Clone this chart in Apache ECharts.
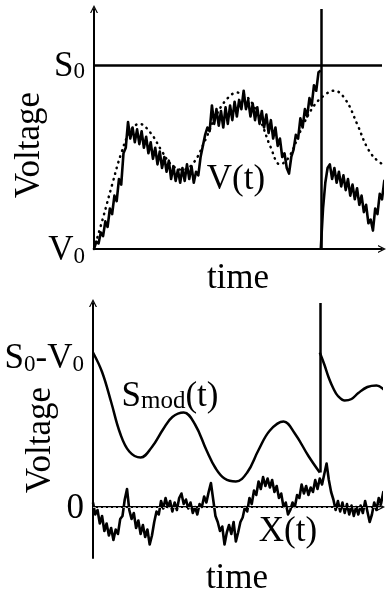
<!DOCTYPE html>
<html>
<head>
<meta charset="utf-8">
<script src="https://cdn.jsdelivr.net/npm/echarts@6/dist/echarts.min.js"></script>
<style>
  html, body { margin: 0; padding: 0; background: #fff; }
  #main { width: 388px; height: 599px; }
</style>
</head>
<body>
<div id="main"></div>
<script>
// V(t), one sample per time step, before the reset at t = 100
const vBefore = [
  0.00, 0.04, 0.03, 0.09, 0.07, 0.15, 0.12, 0.22, 0.19, 0.29,
  0.26, 0.38, 0.35, 0.52, 0.55, 0.69, 0.60, 0.66, 0.58, 0.65,
  0.57, 0.64, 0.55, 0.61, 0.52, 0.58, 0.49, 0.55, 0.46, 0.53,
  0.44, 0.50, 0.42, 0.48, 0.38, 0.45, 0.37, 0.43, 0.36, 0.44,
  0.37, 0.46, 0.38, 0.45, 0.36, 0.42, 0.40, 0.50, 0.56, 0.62,
  0.66, 0.64, 0.78, 0.68, 0.76, 0.67, 0.75, 0.66, 0.77, 0.68,
  0.78, 0.70, 0.80, 0.72, 0.81, 0.76, 0.86, 0.76, 0.81, 0.72,
  0.79, 0.70, 0.77, 0.68, 0.75, 0.66, 0.73, 0.63, 0.70, 0.60,
  0.66, 0.56, 0.60, 0.50, 0.52, 0.44, 0.41, 0.50, 0.54, 0.62,
  0.60, 0.71, 0.66, 0.76, 0.72, 0.82, 0.78, 0.89, 0.86, 0.96,
  0.97
];
// V(t) after the reset, t = 100 .. 129
const vAfterStart = 100;
const vAfter = [
  0.00, 0.22, 0.36, 0.44, 0.46, 0.38, 0.44, 0.36, 0.42, 0.34,
  0.40, 0.32, 0.38, 0.29, 0.35, 0.27, 0.33, 0.24, 0.29, 0.20,
  0.24, 0.14, 0.16, 0.10, 0.22, 0.19, 0.30, 0.27, 0.37, 0.34
];
// noise-free voltage (dotted)
const detT = [0, 4, 8, 12, 16, 20, 25, 30, 34, 39, 44, 49, 54, 59, 63, 68, 73, 78, 82, 86, 91, 96, 101, 106, 111, 116, 121, 126, 129];
const detV = [0, 0.17, 0.35, 0.52, 0.64, 0.68, 0.63, 0.53, 0.46, 0.43, 0.47, 0.59, 0.73, 0.82, 0.85, 0.82, 0.71, 0.55, 0.46, 0.50, 0.64, 0.76, 0.83, 0.86, 0.81, 0.68, 0.54, 0.47, 0.46];

// modulated threshold
const smodT = [0, 4, 8, 12, 16, 21, 26, 31, 35, 40, 45, 50, 54, 58, 63, 68, 73, 78, 84, 89, 95, 100];
const smodV = [1.03, 0.90, 0.70, 0.49, 0.37, 0.33, 0.40, 0.52, 0.60, 0.63, 0.55, 0.38, 0.26, 0.19, 0.17, 0.23, 0.38, 0.51, 0.57, 0.49, 0.34, 0.23];
const smodAfterT = [100, 102, 104, 106, 108, 111, 114, 117, 121, 125, 129];
const smodAfterV = [1.03, 0.95, 0.86, 0.79, 0.74, 0.71, 0.72, 0.76, 0.80, 0.81, 0.77];

// X(t), one sample per time step, t = 0 .. 129
const xNoise = [
   0.03, -0.05, -0.02, -0.11, -0.06, -0.16, -0.11, -0.19, -0.14, -0.22,
  -0.15, -0.18, -0.08, -0.06,  0.05,  0.12, -0.02, -0.08, -0.04, -0.14,
  -0.09, -0.18, -0.12, -0.20, -0.15, -0.25, -0.19, -0.10, -0.03, -0.05,
   0.04, -0.01,  0.06,  0.00,  0.04, -0.03,  0.03, -0.02,  0.06,  0.09,
   0.02,  0.05, -0.01,  0.03, -0.04,  0.00, -0.05,  0.02,  0.00,  0.07,
   0.03,  0.10,  0.16,  0.05, -0.06, -0.10, -0.16, -0.13, -0.25, -0.17,
  -0.12, -0.18, -0.10, -0.23, -0.17, -0.10, -0.07,  0.00, -0.03,  0.06,
   0.02,  0.11,  0.08,  0.17,  0.12,  0.20,  0.14,  0.19,  0.13,  0.18,
   0.10,  0.14,  0.06,  0.09,  0.00,  0.03, -0.05, -0.02,  0.03,  0.00,
   0.08,  0.06,  0.15,  0.09,  0.14,  0.08,  0.13,  0.10,  0.18,  0.12,
   0.19,  0.15,  0.22,  0.29,  0.18,  0.10,  0.05, -0.02,  0.04, -0.03,
   0.03, -0.04,  0.02, -0.05,  0.01, -0.06,  0.00, -0.05,  0.01, -0.04,
   0.04, -0.03, -0.10, -0.05,  0.03, -0.02,  0.06,  0.02,  0.10,  0.06
];

const resetT = 100;
const F = 'Liberation Serif';
const arrow = 'path://M0,10 L5,0 L10,10 L8.4,10 L5,3.2 L1.6,10 Z';

const chart = echarts.init(document.getElementById('main'));

const rich = {
  m: { fontFamily: F, fontSize: 35, lineHeight: 38, verticalAlign: 'bottom', color: '#000' },
  s: { fontFamily: F, fontSize: 23, lineHeight: 22, verticalAlign: 'bottom', color: '#000' },
  d: { fontFamily: F, fontSize: 25, lineHeight: 30, verticalAlign: 'bottom', color: '#000' }
};

function xAx(gi) {
  return {
    gridIndex: gi, type: 'value', min: 0, max: 127,
    axisLine: { lineStyle: { color: '#000', width: 2 }, symbol: ['none', arrow], symbolSize: [11, 8] },
    axisTick: { show: false }, axisLabel: { show: false }, splitLine: { show: false },
    name: 'time', nameLocation: 'middle', nameGap: gi === 0 ? 12 : 3,
    nameTextStyle: { fontFamily: F, fontSize: 35, color: '#000' }
  };
}
function yAx(gi, min, max, labels) {
  return {
    gridIndex: gi, type: 'value', min: min, max: max,
    axisLine: { lineStyle: { color: '#000', width: 2 }, symbol: ['none', arrow], symbolSize: [11, 8] },
    axisTick: { show: false }, splitLine: { show: false },
    axisLabel: {
      customValues: Object.keys(labels).map(Number), margin: 9, rich: rich,
      formatter: v => labels[v] || ''
    }
  };
}

const noisy = { color: '#000', width: 2.6, join: 'round' };

chart.setOption({
  animation: false,
  grid: [
    { left: 94, top: 9, width: 288, height: 240 },
    { left: 93, top: 303, width: 288, height: 255 }
  ],
  xAxis: [xAx(0), xAx(1)],
  yAxis: [
    yAx(0, 0, 1.304, { 0: '{m|V}{s|0}', 1: '{m|S}{s|0}' }),
    yAx(1, -0.34, 1.36, { 0: '{m|0}', 1: '{m|S}{s|0}{m|-V}{s|0}' })
  ],
  series: [
    {
      type: 'line', xAxisIndex: 0, yAxisIndex: 0, smooth: 0.4, showSymbol: false, clip: false,
      data: detT.map((t, i) => [t, detV[i]]),
      lineStyle: { color: '#000', width: 2.5, type: [0.5, 5.5], cap: 'round' }
    },
    {
      type: 'line', xAxisIndex: 0, yAxisIndex: 0, showSymbol: false, clip: false,
      data: vBefore.map((v, i) => [i, v]),
      lineStyle: noisy,
      markLine: {
        silent: true, symbol: 'none', label: { show: false },
        lineStyle: { color: '#000', width: 2.5, type: 'solid' },
        data: [{ yAxis: 1 }, { xAxis: resetT }]
      }
    },
    {
      type: 'line', xAxisIndex: 0, yAxisIndex: 0, showSymbol: false, clip: false,
      data: vAfter.map((v, i) => [vAfterStart + i, v]),
      lineStyle: noisy
    },
    {
      type: 'line', xAxisIndex: 1, yAxisIndex: 1, showSymbol: false, clip: false, z: 3,
      data: xNoise.map((v, i) => [i, v]),
      lineStyle: noisy,
      markLine: {
        silent: true, symbol: 'none', label: { show: false },
        data: [
          [
            { coord: [resetT, smodV[smodV.length - 1]], lineStyle: { color: '#000', width: 2.5, type: 'solid' } },
            { coord: [resetT, 1.36] }
          ]
        ]
      }
    },
    {
      type: 'line', xAxisIndex: 1, yAxisIndex: 1, showSymbol: false, z: 1,
      data: [],
      markLine: {
        silent: true, symbol: 'none', label: { show: false },
        data: [{ yAxis: 0, lineStyle: { color: '#aaa', width: 1, type: [3, 2] } }]
      }
    },
    {
      type: 'line', xAxisIndex: 1, yAxisIndex: 1, smooth: 0.4, showSymbol: false, clip: false,
      data: smodT.map((t, i) => [t, smodV[i]]),
      lineStyle: { color: '#000', width: 2.5 }
    },
    {
      type: 'line', xAxisIndex: 1, yAxisIndex: 1, smooth: 0.4, showSymbol: false, clip: false,
      data: smodAfterT.map((t, i) => [t, smodAfterV[i]]),
      lineStyle: { color: '#000', width: 2.5 }
    }
  ],
  graphic: [
    { type: 'text', x: 30, y: 145, rotation: Math.PI / 2,
      style: { text: 'Voltage', font: '35px "Liberation Serif"', fill: '#000', textAlign: 'center', textVerticalAlign: 'middle' } },
    { type: 'text', x: 41, y: 440, rotation: Math.PI / 2,
      style: { text: 'Voltage', font: '35px "Liberation Serif"', fill: '#000', textAlign: 'center', textVerticalAlign: 'middle' } },
    { type: 'text', x: 236, y: 180,
      style: { text: 'V(t)', font: '35px "Liberation Serif"', fill: '#000', textAlign: 'center', textVerticalAlign: 'middle' } },
    { type: 'text', x: 170, y: 395,
      style: { text: '{m|S}{d|mod}{m|(t)}', rich: rich, textAlign: 'center', textVerticalAlign: 'middle' } },
    { type: 'text', x: 288, y: 532,
      style: { text: 'X(t)', font: '35px "Liberation Serif"', fill: '#000', textAlign: 'center', textVerticalAlign: 'middle' } }
  ]
});
</script>
</body>
</html>
